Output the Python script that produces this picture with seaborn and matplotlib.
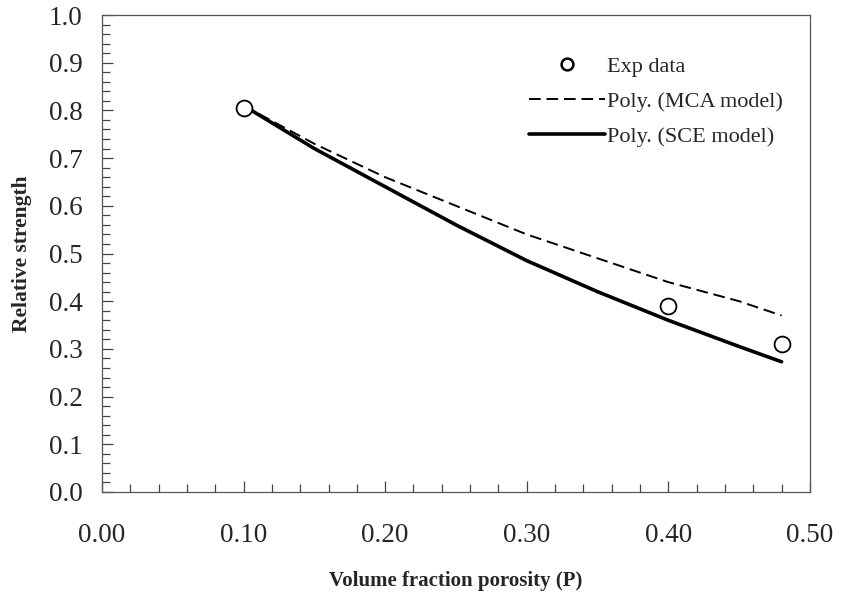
import numpy as np
import pandas as pd
import seaborn as sns
import matplotlib.pyplot as plt
from matplotlib.ticker import MultipleLocator
from matplotlib.lines import Line2D

# Dados
p_exp = [0.10, 0.40, 0.48]
s_exp = [0.805, 0.39, 0.31]

p_model = [0.10, 0.15, 0.20, 0.25, 0.30, 0.35, 0.40, 0.45, 0.48]
s_mca = [0.81, 0.73, 0.66, 0.60, 0.54, 0.49, 0.44, 0.40, 0.37]
s_sce = [0.81, 0.72, 0.64, 0.56, 0.485, 0.42, 0.36, 0.305, 0.273]

sns.set_theme(style="white")
plt.rcParams['font.family'] = ['Liberation Serif', 'DejaVu Serif']

df_exp = pd.DataFrame({"P": p_exp, "S": s_exp})
df_mod = pd.DataFrame({"P": p_model, "MCA": s_mca, "SCE": s_sce})

fig = plt.figure(figsize=(8.41, 5.96), dpi=100)
ax = fig.add_axes([0.1213, 0.1745, 0.8417, 0.8003])

tracejado = (0, (6, 3))
sns.lineplot(data=df_mod, x="P", y="MCA", ax=ax, color="black", lw=1.4,
             linestyle=tracejado)
sns.lineplot(data=df_mod, x="P", y="SCE", ax=ax, color="black", lw=2.6)
sns.scatterplot(data=df_exp, x="P", y="S", ax=ax, s=130, marker="o",
                facecolor="white", edgecolor="black", linewidth=1.3, zorder=5)

ax.set_xlim(0, 0.5)
ax.set_ylim(0, 1.0)
ax.xaxis.set_major_locator(MultipleLocator(0.1))
ax.xaxis.set_minor_locator(MultipleLocator(0.02))
ax.yaxis.set_major_locator(MultipleLocator(0.1))
ax.yaxis.set_minor_locator(MultipleLocator(0.02))
ax.xaxis.set_major_formatter(plt.FormatStrFormatter('%.2f'))
ax.yaxis.set_major_formatter(plt.FormatStrFormatter('%.1f'))
ax.tick_params(which="both", direction="in", color="#444444", width=0.9,
               labelsize=19.5, bottom=True, left=True, top=False, right=False)
ax.tick_params(which="major", length=8)
ax.tick_params(which="minor", length=6)
ax.tick_params(axis="x", which="major", pad=22)
ax.tick_params(axis="y", which="major", pad=14)
for sp in ax.spines.values():
    sp.set_color("#555555")
    sp.set_linewidth(0.9)

ax.set_xlabel("Volume fraction porosity (P)", fontsize=15, fontweight="bold",
              labelpad=17)
ax.set_ylabel("Relative strength", fontsize=15.5, fontweight="bold", labelpad=12)

handles = [
    Line2D([], [], marker="o", linestyle="none", markerfacecolor="white",
           markeredgecolor="black", markersize=8.5, markeredgewidth=1.8),
    Line2D([], [], color="black", lw=1.4, linestyle=tracejado),
    Line2D([], [], color="black", lw=2.6),
]
labels = ["Exp data", "Poly. (MCA model)", "Poly. (SCE model)"]
ax.legend(handles, labels, loc="upper left", bbox_to_anchor=(0.575, 0.955),
          frameon=False, fontsize=16, handlelength=3.4, handletextpad=0.1,
          labelspacing=0.65)

fig.savefig("out.png", dpi=100)
